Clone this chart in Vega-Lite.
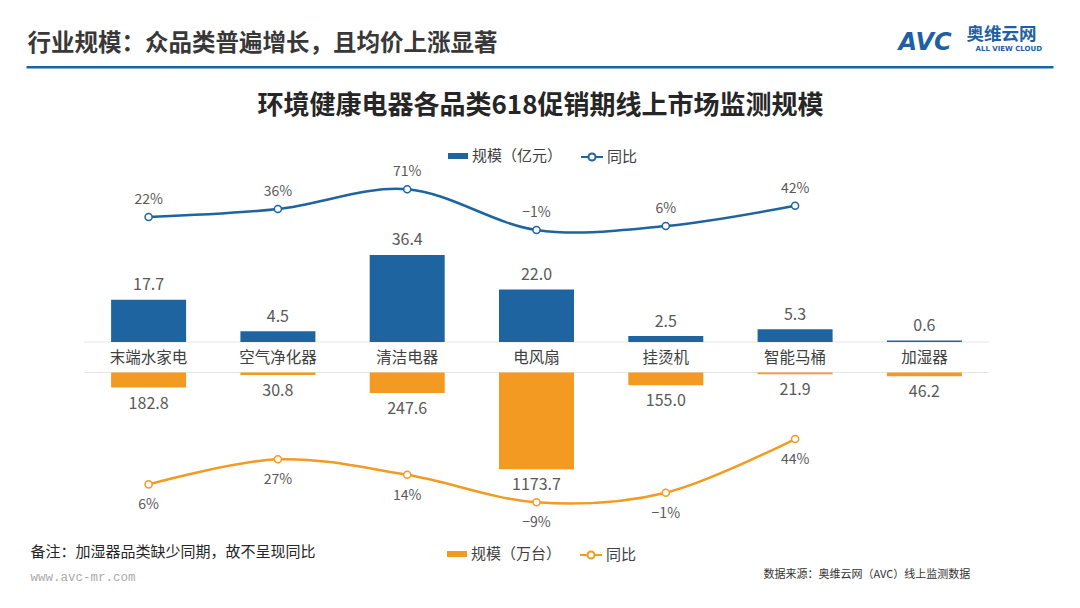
{
  "$schema": "https://vega.github.io/schema/vega-lite/v6.json",
  "autosize": "none",
  "width": 1027,
  "height": 608,
  "padding": {"left": 26, "top": 0, "right": 27, "bottom": 0},
  "background": "white",
  "view": {"stroke": null},
  "config": {"font": "Noto Sans CJK SC", "text": {"font": "Noto Sans CJK SC"}},
  "data": {
    "values": [
      {"cat": "末端水家电", "value": 17.7, "yoy_v": 0.22, "units": 182.8, "yoy_u": 0.06},
      {"cat": "空气净化器", "value": 4.5, "yoy_v": 0.36, "units": 30.8, "yoy_u": 0.27},
      {"cat": "清洁电器", "value": 36.4, "yoy_v": 0.71, "units": 247.6, "yoy_u": 0.14},
      {"cat": "电风扇", "value": 22.0, "yoy_v": -0.01, "units": 1173.7, "yoy_u": -0.09},
      {"cat": "挂烫机", "value": 2.5, "yoy_v": 0.06, "units": 155.0, "yoy_u": -0.01},
      {"cat": "智能马桶", "value": 5.3, "yoy_v": 0.42, "units": 21.9, "yoy_u": 0.44},
      {"cat": "加湿器", "value": 0.6, "yoy_v": null, "units": 46.2, "yoy_u": null}
    ]
  },
  "resolve": {"scale": {"y": "independent", "color": "independent"}, "axis": {"x": "independent"}},
  "layer": [
    {
      "mark": {"type": "tick", "size": 129.3, "thickness": 1, "color": "#dadada"},
      "encoding": {
        "x": {"field": "cat", "type": "nominal", "sort": null, "scale": {"type": "band", "domain": ["末端水家电", "空气净化器", "清洁电器", "电风扇", "挂烫机", "智能马桶", "加湿器"], "paddingInner": 0.42, "paddingOuter": 0.6814, "align": 0.483}, "axis": null},
        "y": {"datum": 0, "type": "quantitative", "scale": {"domain": [-111.30, 143.09], "nice": false, "zero": false}, "axis": null}
      }
    },
    {
      "mark": {"type": "tick", "size": 129.3, "thickness": 1, "color": "#dadada"},
      "encoding": {
        "x": {"field": "cat", "type": "nominal", "sort": null, "axis": null},
        "y": {"datum": 0, "type": "quantitative", "scale": {"domain": [-4515.2, 2854.5], "reverse": true, "nice": false, "zero": false}, "axis": null}
      }
    },
    {
      "mark": {"type": "bar", "color": "#1e64a0"},
      "encoding": {
        "x": {"field": "cat", "type": "nominal", "sort": null,
          "axis": {"orient": "top", "offset": -66.7, "domain": true, "domainColor": "#1f62a3", "domainWidth": 2.5, "labels": false, "ticks": false, "grid": false,
            "title": "行业规模：众品类普遍增长，且均价上涨显著", "titleX": 1, "titleY": -22.7, "titleAlign": "left", "titleBaseline": "middle", "titleAngle": 0,
            "titleFont": "Noto Sans CJK SC", "titleFontSize": 23.5, "titleFontWeight": "bold", "titleColor": "#383838"}},
        "y": {"field": "value", "type": "quantitative", "scale": {"domain": [-111.30, 143.09], "nice": false, "zero": false},
          "axis": {"orient": "left", "domain": false, "labels": false, "ticks": false, "grid": false,
            "title": "环境健康电器各品类618促销期线上市场监测规模", "titleX": 514, "titleY": 105, "titleAlign": "center", "titleBaseline": "middle", "titleAngle": 0,
            "titleFont": "Noto Sans CJK SC", "titleFontSize": 26, "titleFontWeight": "bold", "titleColor": "#262626"}},
        "color": {"datum": "规模（亿元）", "scale": {"range": ["#1e64a0"]},
          "legend": {"orient": "none", "legendX": 422, "legendY": 146, "title": null, "padding": 0,
            "symbolType": "M-1,-0.3H1V0.3H-1Z", "symbolSize": 400, "symbolStrokeWidth": 0,
            "labelFont": "Noto Sans CJK SC", "labelFontSize": 15, "labelColor": "#404040", "labelOffset": 4}}
      }
    },
    {
      "mark": {"type": "text", "baseline": "middle", "dy": -14.5, "fontSize": 16, "color": "#595959", "font": "Noto Sans CJK SC"},
      "encoding": {
        "x": {"field": "cat", "type": "nominal", "sort": null, "axis": null},
        "y": {"field": "value", "type": "quantitative", "scale": {"domain": [-111.30, 143.09], "nice": false, "zero": false},
          "axis": {"orient": "left", "domain": false, "labels": false, "ticks": false, "grid": false,
            "title": "AVC", "titleX": 872, "titleY": 42, "titleAlign": "left", "titleBaseline": "middle", "titleAngle": 0,
            "titleFont": "DejaVu Sans", "titleFontSize": 24, "titleFontWeight": "bold", "titleFontStyle": "italic", "titleColor": "#1f5fa3"}},
        "text": {"field": "value", "type": "quantitative", "format": ".1f"}
      }
    },
    {
      "mark": {"type": "line", "interpolate": "cardinal", "strokeWidth": 2.5},
      "encoding": {
        "x": {"field": "cat", "type": "nominal", "sort": null, "axis": null},
        "y": {"field": "yoy_v", "type": "quantitative", "scale": {"domain": [-6.697, 4.058], "nice": false, "zero": false},
          "axis": {"orient": "left", "domain": false, "labels": false, "ticks": false, "grid": false,
            "title": "奥维云网", "titleX": 940, "titleY": 34, "titleAlign": "left", "titleBaseline": "middle", "titleAngle": 0,
            "titleFont": "Noto Sans CJK SC", "titleFontSize": 17.5, "titleFontWeight": "bold", "titleColor": "#1f5fa3"}},
        "color": {"datum": "同比", "scale": {"range": ["#1e64a0"]},
          "legend": {"orient": "none", "legendX": 554, "legendY": 145, "title": null, "padding": 0,
            "symbolType": "M-1,0H-0.32M0.32,0H1M0.32,0A0.32,0.32,0,1,1,-0.32,0A0.32,0.32,0,1,1,0.32,0", "symbolSize": 484, "symbolStrokeWidth": 2,
            "labelFont": "Noto Sans CJK SC", "labelFontSize": 15, "labelColor": "#404040", "labelOffset": 3,
            "encode": {"symbols": {"update": {"fill": {"value": "white"}, "stroke": {"value": "#1e64a0"}, "strokeWidth": {"value": 2}}}}}}
      }
    },
    {
      "mark": {"type": "point", "filled": true, "fill": "white", "stroke": "#1e64a0", "strokeWidth": 1.5, "size": 50, "opacity": 1},
      "encoding": {
        "x": {"field": "cat", "type": "nominal", "sort": null, "axis": null},
        "y": {"field": "yoy_v", "type": "quantitative", "scale": {"domain": [-6.697, 4.058], "nice": false, "zero": false},
          "axis": {"orient": "left", "domain": false, "labels": false, "ticks": false, "grid": false,
            "title": "ALL VIEW CLOUD", "titleX": 949, "titleY": 48.5, "titleAlign": "left", "titleBaseline": "middle", "titleAngle": 0,
            "titleFont": "DejaVu Sans", "titleFontSize": 7, "titleFontWeight": "bold", "titleColor": "#1f5fa3"}}
      }
    },
    {
      "mark": {"type": "text", "baseline": "middle", "dy": -17, "fontSize": 14, "color": "#595959", "font": "Noto Sans CJK SC"},
      "encoding": {
        "x": {"field": "cat", "type": "nominal", "sort": null, "axis": null},
        "y": {"field": "yoy_v", "type": "quantitative", "scale": {"domain": [-6.697, 4.058], "nice": false, "zero": false},
          "axis": {"orient": "left", "domain": false, "labels": false, "ticks": false, "grid": false,
            "title": "备注：加湿器品类缺少同期，故不呈现同比", "titleX": 4, "titleY": 551, "titleAlign": "left", "titleBaseline": "middle", "titleAngle": 0,
            "titleFont": "Noto Sans CJK SC", "titleFontSize": 15, "titleFontWeight": "normal", "titleColor": "#262626"}},
        "text": {"field": "yoy_v", "type": "quantitative", "format": ".0%"}
      }
    },
    {
      "mark": {"type": "bar", "color": "#f29a21"},
      "encoding": {
        "x": {"field": "cat", "type": "nominal", "sort": null,
          "axis": {"orient": "bottom", "offset": -266, "domain": false, "ticks": false, "tickSize": 0, "grid": false, "labelPadding": 8,
            "labelFont": "Noto Sans CJK SC", "labelFontSize": 15.5, "labelColor": "#404040", "labelAngle": 0, "title": null}},
        "y": {"field": "units", "type": "quantitative", "scale": {"domain": [-4515.2, 2854.5], "reverse": true, "nice": false, "zero": false},
          "axis": {"orient": "left", "domain": false, "labels": false, "ticks": false, "grid": false,
            "title": "www.avc-mr.com", "titleX": 4, "titleY": 576, "titleAlign": "left", "titleBaseline": "middle", "titleAngle": 0,
            "titleFont": "Liberation Mono", "titleFontSize": 12.5, "titleFontWeight": "normal", "titleColor": "#ababab"}},
        "color": {"datum": "规模（万台）", "scale": {"range": ["#f29a21"]},
          "legend": {"orient": "none", "legendX": 421, "legendY": 544, "title": null, "padding": 0,
            "symbolType": "M-1,-0.3H1V0.3H-1Z", "symbolSize": 400, "symbolStrokeWidth": 0,
            "labelFont": "Noto Sans CJK SC", "labelFontSize": 15, "labelColor": "#404040", "labelOffset": 4}}
      }
    },
    {
      "mark": {"type": "text", "baseline": "middle", "dy": 16, "fontSize": 16, "color": "#595959", "font": "Noto Sans CJK SC"},
      "encoding": {
        "x": {"field": "cat", "type": "nominal", "sort": null, "axis": null},
        "y": {"field": "units", "type": "quantitative", "scale": {"domain": [-4515.2, 2854.5], "reverse": true, "nice": false, "zero": false},
          "axis": {"orient": "left", "domain": false, "labels": false, "ticks": false, "grid": false,
            "title": "数据来源：奥维云网（AVC）线上监测数据", "titleX": 737, "titleY": 574, "titleAlign": "left", "titleBaseline": "middle", "titleAngle": 0,
            "titleFont": "Noto Sans CJK SC", "titleFontSize": 11, "titleFontWeight": "normal", "titleColor": "#333333"}},
        "text": {"field": "units", "type": "quantitative", "format": ".1f"}
      }
    },
    {
      "mark": {"type": "line", "interpolate": "cardinal", "strokeWidth": 2.5},
      "encoding": {
        "x": {"field": "cat", "type": "nominal", "sort": null, "axis": null},
        "y": {"field": "yoy_u", "type": "quantitative", "scale": {"domain": [-0.9753, 4.1169], "nice": false, "zero": false}, "axis": null},
        "color": {"datum": "同比", "scale": {"range": ["#f29a21"]},
          "legend": {"orient": "none", "legendX": 553, "legendY": 543, "title": null, "padding": 0,
            "symbolType": "M-1,0H-0.32M0.32,0H1M0.32,0A0.32,0.32,0,1,1,-0.32,0A0.32,0.32,0,1,1,0.32,0", "symbolSize": 484, "symbolStrokeWidth": 2,
            "labelFont": "Noto Sans CJK SC", "labelFontSize": 15, "labelColor": "#404040", "labelOffset": 3,
            "encode": {"symbols": {"update": {"fill": {"value": "white"}, "stroke": {"value": "#f29a21"}, "strokeWidth": {"value": 2}}}}}}
      }
    },
    {
      "mark": {"type": "point", "filled": true, "fill": "white", "stroke": "#f29a21", "strokeWidth": 1.5, "size": 50, "opacity": 1},
      "encoding": {
        "x": {"field": "cat", "type": "nominal", "sort": null, "axis": null},
        "y": {"field": "yoy_u", "type": "quantitative", "scale": {"domain": [-0.9753, 4.1169], "nice": false, "zero": false}, "axis": null}
      }
    },
    {
      "mark": {"type": "text", "baseline": "middle", "dy": 21, "fontSize": 14, "color": "#595959", "font": "Noto Sans CJK SC"},
      "encoding": {
        "x": {"field": "cat", "type": "nominal", "sort": null, "axis": null},
        "y": {"field": "yoy_u", "type": "quantitative", "scale": {"domain": [-0.9753, 4.1169], "nice": false, "zero": false}, "axis": null},
        "text": {"field": "yoy_u", "type": "quantitative", "format": ".0%"}
      }
    }
  ]
}
